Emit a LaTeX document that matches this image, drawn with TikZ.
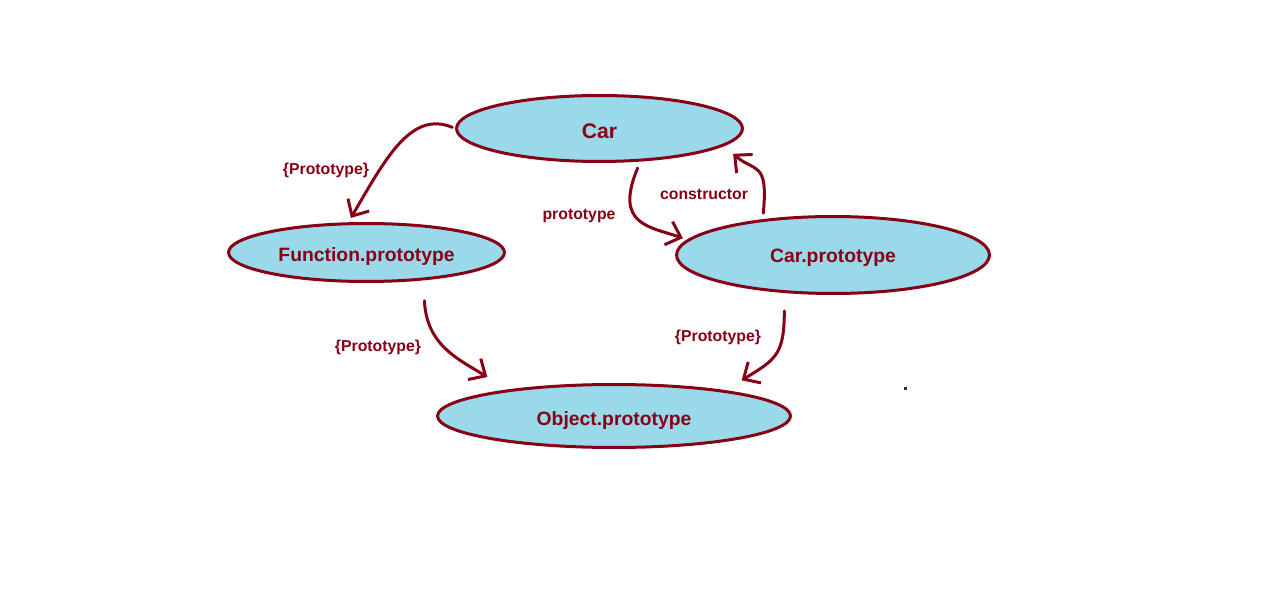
\documentclass[tikz,border=0pt]{standalone}
\usepackage{fontspec}
\setmainfont{Liberation Sans}
\usepackage{xcolor}
\usepackage{tikz}
\usetikzlibrary{shapes.geometric}
\usetikzlibrary{arrows.meta}
\definecolor{darkred}{HTML}{880015}
\definecolor{lightblue}{HTML}{99D9EA}
\tikzset{obj/.style={ellipse, draw=darkred, fill=lightblue, line width=0.06cm, text=darkred, font=\bfseries\fontsize{11}{13}\selectfont, inner sep=0pt, text height=10.6pt, text depth=0pt}}
\tikzset{link/.style={->, draw=darkred, line width=0.06cm, line cap=round}}
\tikzset{lbl/.style={text=darkred, font=\bfseries\fontsize{9}{11}\selectfont, inner sep=0pt}}

\begin{document}
\begin{tikzpicture}[x=0.02cm, y=-0.02cm, >={Straight Barb[length=0.26cm,width=0.49cm]}]
\useasboundingbox (0,0) rectangle (1274,614);
\node[obj, minimum width=5.72cm, minimum height=1.32cm, font=\bfseries\fontsize{12}{14}\selectfont, text height=11.4pt] (car) at (599.5,128.5) {Car};
\node[obj, minimum width=5.52cm, minimum height=1.16cm] (func) at (366.5,252.5) {Function.prototype};
\node[obj, minimum width=6.26cm, minimum height=1.54cm, text height=8.8pt] (cp) at (833,255) {Car.prototype};
\node[obj, minimum width=7.06cm, minimum height=1.26cm] (obj) at (614,416) {Object.prototype};
% links
\draw[link, shorten <=0.06cm, shorten >=0.1cm] (car.west) .. controls +(-44.5,-18.5) and +(36.5,-62.3) .. (func.121);
\draw[link, shorten <=0.14cm, shorten >=0.09cm] (car.321) .. controls +(-26.7,63.5) and +(-37.3,-13) .. (cp.174);
\draw[link, shorten <=0.12cm, shorten >=0.24cm] (cp.153) .. controls +(5.6,-59) and +(31.1,26.8) .. (car.352);
\draw[link, shorten <=0.41cm, shorten >=0.48cm] (func.334) .. controls +(2.9,64.6) and +(-49.9,-30.5) .. (obj.166);
\draw[link, shorten <=0.36cm, shorten >=0.38cm] (cp.218) .. controls +(0,62) and +(50.1,-30.7) .. (obj.13);
% labels
\node[lbl] (lblfunc) at (326,170) {\{Prototype\}};
\node[lbl] (lblproto) at (579,216) {prototype};
\node[lbl] (lblcons) at (704,194) {constructor};
\node[lbl] (lblfobj) at (378,347) {\{Prototype\}};
\node[lbl] (lblcpobj) at (718,337) {\{Prototype\}};
\fill[darkred] (903.5,387.5) rectangle (906.5,390.5);
\end{tikzpicture}
\end{document}
